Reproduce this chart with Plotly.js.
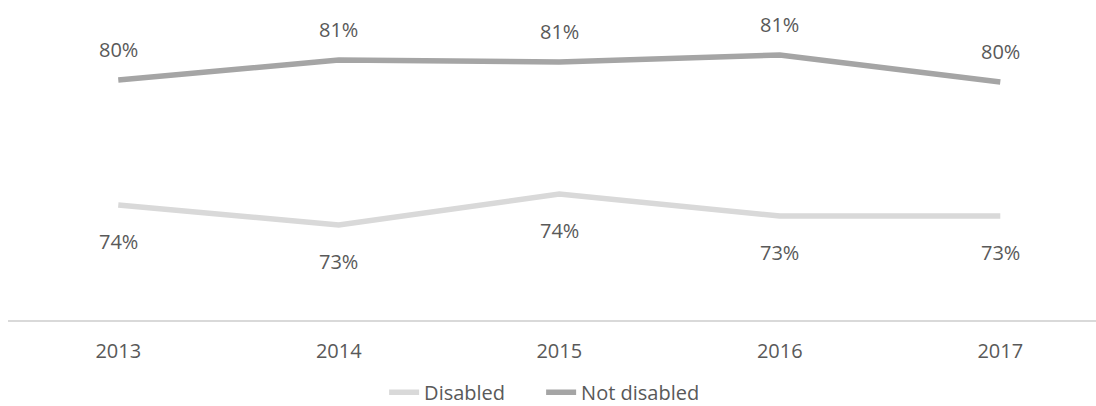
<!DOCTYPE html>
<html><head><meta charset="utf-8">
<script src="https://cdn.plot.ly/plotly-3.0.1.min.js"></script>
<style>html,body{margin:0;padding:0;background:#fff}#chart{width:1096px;height:406px}</style>
</head><body><div id="chart"></div>
<script>
const years = ['2013','2014','2015','2016','2017'];
const disabled = [73.75, 72.75, 74.3, 73.2, 73.2];
const notDisabled = [80.0, 81.0, 80.9, 81.25, 79.9];
const seriesNames = ['Disabled','Not disabled'];
const colors = ['#D9D9D9','#A5A5A5'];
const fontFam = '"Open Sans", "Liberation Sans", sans-serif';
const txtColor = '#595959';

const traces = [
  {x: years, y: disabled, name: seriesNames[0], type:'scatter', mode:'lines',
   line:{color:colors[0], width:5.5}, hoverinfo:'skip'},
  {x: years, y: notDisabled, name: seriesNames[1], type:'scatter', mode:'lines',
   line:{color:colors[1], width:5.5}, hoverinfo:'skip'}
];
const annotations = [];
years.forEach((yr,i)=>{
  annotations.push({xref:'x', yref:'y', x:i, y:notDisabled[i], text:Math.round(notDisabled[i])+'%', showarrow:false,
    yshift:31, font:{family:fontFam,size:20,color:txtColor}});
  annotations.push({xref:'x', yref:'y', x:i, y:disabled[i], text:Math.round(disabled[i])+'%', showarrow:false,
    yshift:-36, font:{family:fontFam,size:20,color:txtColor}});
});
const layout = {
  width:1096, height:406,
  margin:{l:8, r:0, t:0, b:86, autoexpand:false},
  paper_bgcolor:'#fff', plot_bgcolor:'#fff',
  showlegend:true,
  legend:{orientation:'h', x:0.49, xanchor:'center', y:-0.165, yanchor:'top',
    entrywidth:112, entrywidthmode:'pixels',
    font:{family:fontFam,size:20,color:txtColor}, traceorder:'normal'},
  xaxis:{type:'category', range:[-0.5, 4.434], showline:true, linecolor:'#D9D9D9', linewidth:2,
    showgrid:false, zeroline:false, ticks:'', ticklabelstandoff:12, automargin:false,
    tickfont:{family:fontFam,size:20,color:txtColor}},
  yaxis:{range:[68,84], visible:false, showgrid:false, zeroline:false, automargin:false},
  annotations: annotations
};
Plotly.newPlot('chart', traces, layout, {displayModeBar:false, staticPlot:true});
</script></body></html>
